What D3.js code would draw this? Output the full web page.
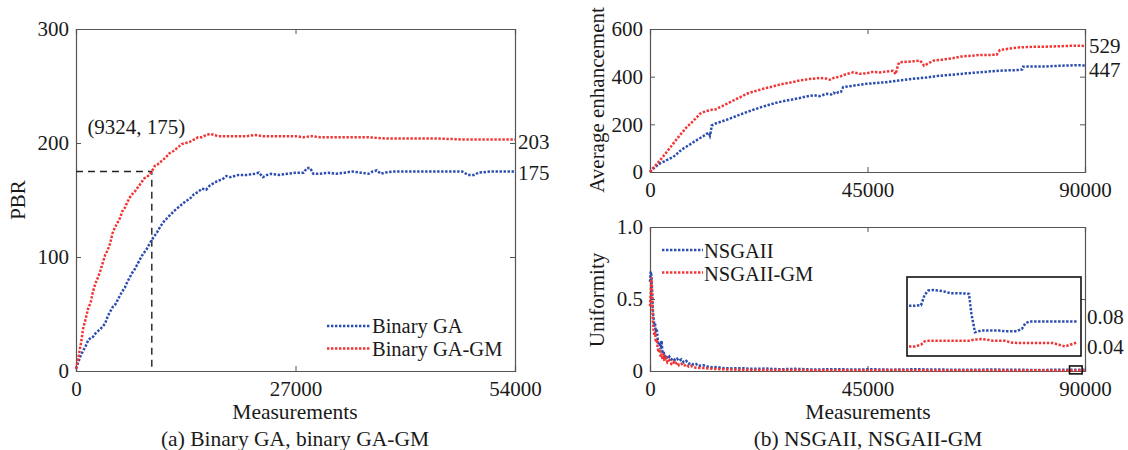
<!DOCTYPE html>
<html>
<head>
<meta charset="utf-8">
<script src="https://cdn.jsdelivr.net/npm/d3@7"></script>
<style>
  html, body { margin: 0; padding: 0; background: #fff; }
  svg text { font-family: "Liberation Serif", "Times New Roman", serif; fill: #1a1a1a; }
</style>
</head>
<body>
<svg id="chart" width="1128" height="450"></svg>
<script>
// ---- Panel (a): PBR vs measurements ----
const gaX   = [0,300,600,900,1200,1500,1800,2100,2400,2700,3000,3300,3600,3900,4200,4500,4800,5100,5400,5700,6000,6300,6600,6900,7200,7500,7800,8100,8400,8700,9000,9324,9700,10000,10400,10800,11200,11600,12000,12500,13000,13500,14000,14500,15000,15500,16000,16500,17000,17500,18000,18500,19000,19500,20000,21000,22000,22500,23000,23500,24000,25000,26000,27000,28000,28400,28800,29200,30000,31000,32000,33000,34000,35000,36000,36500,37000,37500,38000,39000,40000,42000,44000,46000,47500,48200,49000,49500,51000,54000];
const gaPBR = [2,8,14,18,22,27,29,30,33,35,37,39,42,48,52,56,58,62,66,70,73,78,82,86,89,93,97,101,104,107,111,115,119,122,127,131,134,137,140,143,146,149,151,155,157,160,159,163,165,167,168,171,170,171,172,172,173,174,170,172,173,172,173,174,174,178,178,173,173,174,173,174,175,174,173,175,176,173,174,175,175,175,175,175,175,172,172,174,175,175];

const gmX   = [0,300,600,900,1200,1500,1800,2100,2400,2700,3000,3300,3600,3900,4200,4500,4800,5100,5400,5700,6000,6300,6600,6900,7200,7500,7800,8100,8400,8700,9000,9324,9700,10000,10500,11000,11500,12000,12500,13000,13500,14000,14500,15000,15500,16000,16500,17000,17500,18000,19000,20000,21000,22000,23000,24000,25000,26000,27000,28000,29000,30000,32000,34000,36000,38000,40000,42000,44000,46000,48000,50000,52000,54000];
const gmPBR = [2,12,24,38,46,55,60,70,77,82,88,95,102,106,112,121,126,130,134,140,143,148,152,155,157,160,163,166,169,170,172,175,180,181,184,187,191,193,196,199,200,201,203,205,205,207,208,207,206,206,206,206,206,207,206,206,206,206,206,205,206,205,205,205,205,204,204,204,204,203.5,203,203,203,203];

const pbrTicksX = [0, 27000, 54000];
const pbrTicksY = [0, 100, 200, 300];
const pbrMark   = [9324, 175];
const pbrEnds   = [203, 175];
const legendA   = ["Binary GA", "Binary GA-GM"];

// ---- Panel (b) top: average enhancement ----
const nsX   = [0,1000,2000,3000,4000,4800,5500,6200,7000,8000,8960,10000,11000,11700,12200,12400,12600,12750,13500,14500,15850,17000,18500,19990,21500,23000,24130,26000,28270,30000,32400,34000,35000,36540,37500,38000,38500,38950,39500,39960,42000,44800,46000,48920,51500,54440,57000,59950,62500,65470,68000,70980,73500,76490,77000,77200,80000,82000,85000,88000,90000];
const nsAvg = [0,20,35,45,55,63,75,88,100,112,125,138,150,160,165,153,170,195,203,210,219,228,240,251,262,272,279,290,300,306,317,322,318,328,325,333,328,335,336,356,362,370,372,377,384,391,396,404,408,414,418,423,426,428,430,442,443,443,446,448,447];

const nsgmX   = [0,1000,2070,3500,4820,6000,7580,9000,10330,11500,12750,13500,14470,15500,17230,18500,19990,21500,23420,25000,26870,29000,31000,33000,35140,36500,37210,38000,39280,40500,42040,43400,44800,46000,47540,49000,50290,50850,51200,51530,53500,55870,56200,56690,57500,58620,60000,61380,62800,64130,66000,68270,70000,71720,72000,72410,74500,76540,79000,82060,85000,88000,90000];
const nsgmAvg = [0,25,49,85,119,150,188,215,244,255,261,262,272,282,300,312,328,338,349,357,367,375,384,390,395,392,387,395,400,410,418,412,414,420,418,422,425,411,440,460,463,467,460,446,455,467,470,474,478,484,487,491,491,492,500,512,518,523,525,526,528,530,529];

const avgTicksX = [0, 45000, 90000];
const avgTicksY = [0, 200, 400, 600];
const avgEnds   = [529, 447];

// ---- Panel (b) bottom: uniformity ----
const unX   = [0,150,300,450,600,750,900,1050,1200,1400,1600,1800,2000,2200,2400,2600,2800,3000,3300,3600,4000,4400,4800,5200,5600,6000,6500,7000,7500,8000,8500,9000,9500,10000,11000,12000,13000,14000,15000,17000,19000,21000,24000,27000,30000,34000,38000,42000,46000,50000,55000,60000,65000,70000,75000,80000,85000,90000];
const unNS  = [0.62,0.69,0.66,0.55,0.42,0.36,0.31,0.33,0.27,0.29,0.22,0.18,0.20,0.15,0.21,0.12,0.14,0.10,0.11,0.085,0.10,0.08,0.09,0.075,0.085,0.07,0.08,0.06,0.07,0.05,0.055,0.045,0.05,0.035,0.04,0.03,0.025,0.028,0.02,0.018,0.02,0.015,0.017,0.012,0.015,0.010,0.013,0.010,0.012,0.009,0.012,0.010,0.008,0.010,0.009,0.007,0.009,0.008];
const unGmX = [0,150,300,450,600,750,900,1050,1200,1400,1600,1800,2000,2200,2400,2600,2800,3000,3300,3600,4000,4400,4800,5200,5600,6000,6500,7000,7500,8000,8500,9000,10000,11000,12000,13000,15000,17000,20000,25000,30000,35000,40000,45000,50000,55000,60000,65000,70000,75000,80000,85000,90000];
const unGM  = [0.45,0.55,0.65,0.50,0.35,0.28,0.25,0.27,0.20,0.22,0.16,0.13,0.15,0.10,0.12,0.08,0.10,0.07,0.09,0.06,0.075,0.05,0.065,0.045,0.06,0.04,0.05,0.035,0.045,0.03,0.035,0.025,0.022,0.02,0.018,0.015,0.012,0.010,0.008,0.006,0.007,0.005,0.006,0.005,0.007,0.005,0.004,0.006,0.005,0.004,0.005,0.004,0.005];

// close-up of the last measurements
const zoomX   = [88600,88650,88700,88730,88760,88800,88850,88900,88950,89000,89050,89100,89120,89150,89200,89250,89300,89350,89400,89450,89500,89540,89570,89600,89700,89800,89900,90000];
const zoomNS  = [0.109,0.109,0.110,0.128,0.136,0.137,0.136,0.134,0.131,0.131,0.131,0.130,0.095,0.062,0.065,0.065,0.065,0.065,0.064,0.064,0.064,0.068,0.078,0.081,0.081,0.081,0.081,0.081];
const zoomGM  = [0.037,0.037,0.040,0.046,0.047,0.047,0.047,0.047,0.047,0.047,0.047,0.047,0.048,0.049,0.050,0.049,0.047,0.047,0.047,0.044,0.043,0.043,0.043,0.043,0.043,0.043,0.037,0.044];
const zoomWindow = { x: [86800, 89400], y: [-0.02, 0.035] };
const zoomTicks  = [0.08, 0.04];

const unTicksX = [0, 45000, 90000];
const unTicksY = [0, 0.5, 1.0];
const legendB  = ["NSGAII", "NSGAII-GM"];

const BLUE = "#2b4db0";
const RED  = "#f23434";
const AXIS = "#555";
const DASH = "2.4 1.6";

const svg = d3.select("#chart");

function pairs(xs, ys) { return xs.map((x, i) => [x, ys[i]]); }

function dotted(g, x, y, data, color) {
  g.append("path")
    .datum(data)
    .attr("fill", "none")
    .attr("stroke", color)
    .attr("stroke-width", 2.5)
    .attr("stroke-dasharray", DASH)
    .attr("d", d3.line().x(d => x(d[0])).y(d => y(d[1])));
}

function frame(x, y, tx, ty, fmtY, mirrorX, mirrorY) {
  const g = svg.append("g");
  const [x0, x1] = x.range();
  const [yb, yt] = y.range();
  g.append("g").attr("transform", `translate(0,${yb})`)
    .call(d3.axisBottom(x).tickValues(tx).tickSize(-5).tickPadding(10).tickFormat(d3.format("d")));
  g.append("g").attr("transform", `translate(${x0},0)`)
    .call(d3.axisLeft(y).tickValues(ty).tickSize(-5).tickPadding(7).tickFormat(fmtY));
  g.append("g").attr("transform", `translate(0,${yt})`)
    .call(d3.axisTop(x).tickValues(mirrorX).tickSize(-5).tickFormat(""));
  g.append("g").attr("transform", `translate(${x1},0)`)
    .call(d3.axisRight(y).tickValues(mirrorY).tickSize(-5).tickFormat(""));
  g.selectAll(".domain").attr("stroke", AXIS).attr("stroke-width", 1.2);
  g.selectAll(".tick line").attr("stroke", AXIS);
  g.selectAll(".tick text").attr("font-family", "Liberation Serif").attr("font-size", 21).attr("fill", "#1a1a1a");
  return g;
}

function label(txt, x, y, opts = {}) {
  const t = svg.append("text").attr("x", x).attr("y", y)
    .attr("font-size", opts.size || 21)
    .attr("text-anchor", opts.anchor || "middle")
    .attr("dominant-baseline", "central")
    .text(txt);
  if (opts.rotate) t.attr("transform", `rotate(-90,${x},${y})`);
  return t;
}

// ---------- panel (a) ----------
const xa = d3.scaleLinear().domain([0, 54000]).range([76, 515]);
const ya = d3.scaleLinear().domain([0, 300]).range([371, 29]);
frame(xa, ya, pbrTicksX, pbrTicksY, d3.format("d"), [27000], [100, 200]);

const ga = svg.append("g");
// reference lines to the marked point
ga.append("path")
  .attr("fill", "none").attr("stroke", "#222").attr("stroke-width", 1.4)
  .attr("stroke-dasharray", "7 5")
  .attr("d", d3.line()([[xa(0), ya(pbrMark[1])], [xa(pbrMark[0]), ya(pbrMark[1])], [xa(pbrMark[0]), ya(0)]]));
dotted(ga, xa, ya, pairs(gaX, gaPBR), BLUE);
dotted(ga, xa, ya, pairs(gmX, gmPBR), RED);

label(`(${pbrMark[0]}, ${pbrMark[1]})`, xa(1400), ya(214), { anchor: "start" });
label(String(pbrEnds[0]), xa(54000) + 3, ya(pbrEnds[0]) + 2, { anchor: "start" });
label(String(pbrEnds[1]), xa(54000) + 3, ya(pbrEnds[1]) + 1, { anchor: "start" });

// legend (a)
[[legendA[0], BLUE, 326], [legendA[1], RED, 348.5]].forEach(([t, c, yy]) => {
  svg.append("line").attr("x1", 327).attr("x2", 371).attr("y1", yy).attr("y2", yy)
    .attr("stroke", c).attr("stroke-width", 2.5).attr("stroke-dasharray", DASH);
  label(t, 372, yy, { anchor: "start", size: 20.5 });
});

label("PBR", 18, 200, { rotate: true });
label("Measurements", 295, 412, { size: 21.5 });
label("(a) Binary GA, binary GA-GM", 295, 439, { size: 21.5 });

// ---------- panel (b) top ----------
const xb = d3.scaleLinear().domain([0, 90000]).range([650, 1085]);
const yb1 = d3.scaleLinear().domain([0, 600]).range([172, 29]);
frame(xb, yb1, avgTicksX, avgTicksY, d3.format("d"), [45000], [200, 400]);
const gb1 = svg.append("g");
dotted(gb1, xb, yb1, pairs(nsX, nsAvg), BLUE);
dotted(gb1, xb, yb1, pairs(nsgmX, nsgmAvg), RED);
label(String(avgEnds[0]), xb(90000) + 4, yb1(avgEnds[0]), { anchor: "start" });
label(String(avgEnds[1]), xb(90000) + 4, yb1(avgEnds[1]) + 5, { anchor: "start" });
label("Average enhancement", 597, 100, { rotate: true });

// ---------- panel (b) bottom ----------
const yb2 = d3.scaleLinear().domain([0, 1]).range([371, 227]);
frame(xb, yb2, unTicksX, unTicksY, v => v === 0 ? "0" : d3.format(".1f")(v), [45000], [0.5]);
const gb2 = svg.append("g");
dotted(gb2, xb, yb2, pairs(unX, unNS), BLUE);
dotted(gb2, xb, yb2, pairs(unGmX, unGM), RED);

// marker for the zoomed window
gb2.append("rect")
  .attr("x", xb(zoomWindow.x[0])).attr("y", yb2(zoomWindow.y[1]))
  .attr("width", xb(zoomWindow.x[1]) - xb(zoomWindow.x[0]))
  .attr("height", yb2(zoomWindow.y[0]) - yb2(zoomWindow.y[1]))
  .attr("fill", "none").attr("stroke", "#111").attr("stroke-width", 1.6);

// inset close-up
const xi = d3.scaleLinear().domain([88600, 90000]).range([909, 1077]);
const yi = d3.scaleLinear().domain([0.02, 0.16]).range([356, 277]);
const gi = svg.append("g");
gi.append("rect").attr("x", 907).attr("y", 277).attr("width", 174).attr("height", 79)
  .attr("fill", "#fff").attr("stroke", "#111").attr("stroke-width", 1.6);
dotted(gi, xi, yi, pairs(zoomX, zoomNS), BLUE);
dotted(gi, xi, yi, pairs(zoomX, zoomGM), RED);
label(String(zoomTicks[0]), 1087, yi(zoomTicks[0]) - 5, { anchor: "start" });
label(String(zoomTicks[1]), 1087, yi(zoomTicks[1]) + 2, { anchor: "start" });

// legend (b)
[[legendB[0], BLUE, 250], [legendB[1], RED, 272.5]].forEach(([t, c, yy]) => {
  svg.append("line").attr("x1", 662).attr("x2", 703).attr("y1", yy).attr("y2", yy)
    .attr("stroke", c).attr("stroke-width", 2.5).attr("stroke-dasharray", DASH);
  label(t, 704, yy + 1, { anchor: "start", size: 20.5 });
});

label("Uniformity", 597, 300, { rotate: true });
label("Measurements", 868, 412, { size: 21.5 });
label("(b) NSGAII, NSGAII-GM", 868, 439, { size: 21.5 });
</script>
</body>
</html>
